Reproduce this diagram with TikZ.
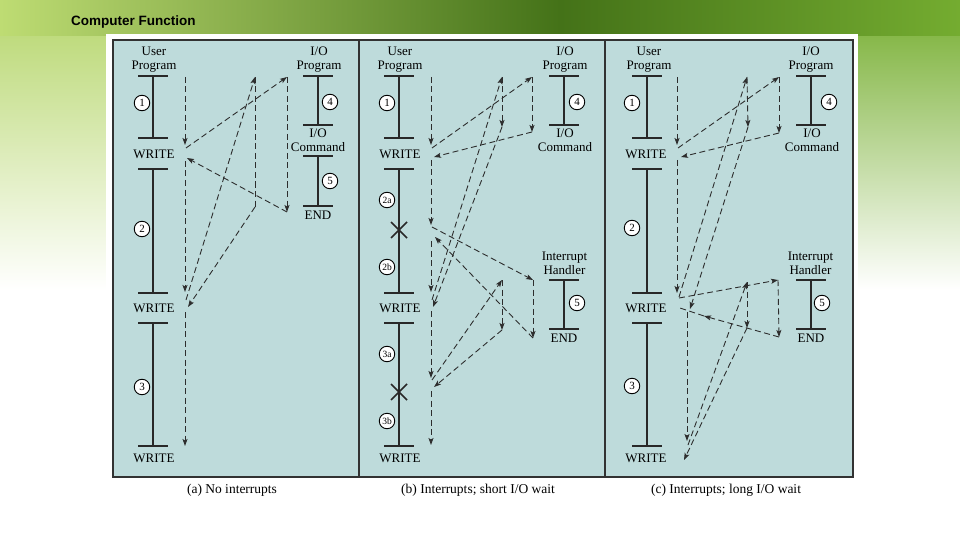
\documentclass[tikz,border=0pt]{standalone}
\usepackage{fontspec}
\setmainfont{Liberation Serif}
\newfontfamily\titlefont{Liberation Sans}
\usetikzlibrary{arrows.meta}
\definecolor{panelbg}{RGB}{190,219,219}
\definecolor{borderc}{RGB}{50,50,50}
\definecolor{barc}{RGB}{40,40,40}
\definecolor{flowc}{RGB}{45,45,45}
\definecolor{bgLeftTop}{RGB}{182,214,108}
\definecolor{bgLeftMid}{RGB}{212,234,170}
\definecolor{bgRightTop}{RGB}{118,174,48}
\definecolor{bgRightMid}{RGB}{160,206,96}
\definecolor{bandL}{RGB}{190,220,115}
\definecolor{bandM}{RGB}{68,114,24}
\definecolor{bandR}{RGB}{116,172,48}
\newcommand{\mytickmark}[2]{\draw[bar] ({#1-15},#2) -- ({#1+15},#2);}
\begin{document}
\begin{tikzpicture}[x=1pt,y=-1pt,
  bar/.style={draw=barc, line width=2pt},
  flow/.style={draw=flowc, line width=0.9pt, dash pattern=on 6pt off 3.5pt, -{Stealth[length=7pt,width=5pt,inset=1.5pt]}},
  flowplain/.style={draw=flowc, line width=0.9pt, dash pattern=on 6pt off 3.5pt},
  num/.style={circle, draw=black, fill=white, line width=0.9pt, inner sep=0pt, minimum size=15.5pt, font=\fontsize{11}{11}\selectfont},
  numsm/.style={num, font=\fontsize{9.5}{10}\selectfont},
  lbl/.style={font=\fontsize{13}{14}\selectfont, align=center, inner sep=0pt, text=black},
  captxt/.style={font=\fontsize{13.5}{14}\selectfont, inner sep=0pt, text=black}]
\useasboundingbox (0,0) rectangle (960,540);
% background
\fill[white] (0,0) rectangle (960,540);
\shade[top color=bgLeftTop, middle color=bgLeftMid, bottom color=white] (0,0) rectangle (480,290);
\shade[top color=bgRightTop, middle color=bgRightMid, bottom color=white] (480,0) rectangle (960,290);
\shade[left color=bandL, right color=bandM] (0,0) rectangle (560,36);
\shade[left color=bandM, right color=bandR] (560,0) rectangle (960,36);
\node[anchor=west, inner sep=0pt, font=\titlefont\bfseries\fontsize{13.5}{14}\selectfont] (title) at (71,22) {Computer Function};
% frame
\fill[white] (106,34) rectangle (858,484);
\draw[draw=borderc, line width=1.5pt, fill=panelbg] (113,40) rectangle (853,477);
\draw[draw=borderc, line width=2pt] (359,40) -- (359,477) (605,40) -- (605,477);

% ================= panel a =================
\foreach \yy in {76,138,169,293,323,446} {\mytickmark{153}{\yy}}
\draw[bar] (153,76) -- (153,138) (153,169) -- (153,293) (153,323) -- (153,446);
\foreach \yy in {76,125,156,206} {\mytickmark{318}{\yy}}
\draw[bar] (318,76) -- (318,125) (318,156) -- (318,206);
\node[lbl] (aUP) at (154,60) {User\\Program};
\node[lbl] (aIOP) at (319,60) {I/O\\Program};
\node[lbl] (aCMD) at (318,140.5) {I/O\\Command};
\node[lbl] (aEND) at (318,215) {END};
\node[lbl] (aWR1) at (154,154) {WRITE};
\node[lbl] (aWR2) at (154,308) {WRITE};
\node[lbl] (aWR3) at (154,458) {WRITE};
\node[num] (aN1) at (142,103) {1};
\node[num] (aN2) at (142,229) {2};
\node[num] (aN3) at (142,387) {3};
\node[num] (aN4) at (330,102) {4};
\node[num] (aN5) at (330,181) {5};
\coordinate (aU0) at (185,77);
\coordinate (aW1) at (185,145);
\coordinate (aW1o) at (186,148);
\coordinate (aIO1) at (287,77);
\coordinate (aIO1e) at (287,212);
\coordinate (aW1i) at (187,158);
\coordinate (aW1d) at (185,161);
\coordinate (aW2) at (185,292);
\coordinate (aW2o) at (186,300);
\coordinate (aIO2) at (255,77);
\coordinate (aIO2e) at (255,207);
\coordinate (aW2i) at (188,307);
\coordinate (aW2d) at (185,312);
\coordinate (aW3) at (185,446);
\draw[flow] (aU0) -- (aW1);
\draw[flow] (aW1o) -- (aIO1);
\draw[flow] (aIO1) -- (aIO1e);
\draw[flow] (aIO1e) -- (aW1i);
\draw[flow] (aW1d) -- (aW2);
\draw[flow] (aW2o) -- (aIO2);
\draw[flowplain] (aIO2) -- (aIO2e);
\draw[flow] (aIO2e) -- (aW2i);
\draw[flow] (aW2d) -- (aW3);

% ================= panel b =================
\foreach \yy in {76,138,169,293,323,446} {\mytickmark{399}{\yy}}
\draw[bar] (399,76) -- (399,138) (399,169) -- (399,293) (399,323) -- (399,446);
\draw[bar, line width=1.6pt] (391,222) -- (407,238) (391,238) -- (407,222);
\draw[bar, line width=1.6pt] (391,384) -- (407,400) (391,400) -- (407,384);
\foreach \yy in {76,125,280,329} {\mytickmark{564}{\yy}}
\draw[bar] (564,76) -- (564,125) (564,280) -- (564,329);
\node[lbl] (bUP) at (400,60) {User\\Program};
\node[lbl] (bIOP) at (565,60) {I/O\\Program};
\node[lbl] (bCMD) at (565,140.5) {I/O\\Command};
\node[lbl] (bIH) at (564.5,263) {Interrupt\\Handler};
\node[lbl] (bEND) at (564,338) {END};
\node[lbl] (bWR1) at (400,154) {WRITE};
\node[lbl] (bWR2) at (400,308) {WRITE};
\node[lbl] (bWR3) at (400,458) {WRITE};
\node[num] (bN1) at (387,103) {1};
\node[numsm] (bN2a) at (387,200) {2a};
\node[numsm] (bN2b) at (387,267) {2b};
\node[numsm] (bN3a) at (387,354) {3a};
\node[numsm] (bN3b) at (387,421) {3b};
\node[num] (bN4) at (577,102) {4};
\node[num] (bN5) at (577,303) {5};
\coordinate (b0) at (431,77);
\coordinate (b1) at (431,145);
\coordinate (b1s) at (432,148);
\coordinate (bIO) at (532,77);
\coordinate (bIOe) at (532,132);
\coordinate (b1r) at (434,157);
\coordinate (b2s) at (431,160);
\coordinate (b2) at (431,225);
\coordinate (b2u) at (432,227);
\coordinate (bH) at (533,280);
\coordinate (bHe) at (533,338);
\coordinate (b2r) at (435,237);
\coordinate (b3s) at (431,241);
\coordinate (b3) at (431,292);
\coordinate (b3u) at (432,300);
\coordinate (bIO2) at (502,77);
\coordinate (bIO2e) at (502,127);
\coordinate (b3r) at (433,307);
\coordinate (b4s) at (431,311);
\coordinate (b4) at (431,378);
\coordinate (b4u) at (432,380);
\coordinate (bH2) at (502,280);
\coordinate (bH2e) at (502,330);
\coordinate (b4r) at (434,387);
\coordinate (b5s) at (431,391);
\coordinate (b5) at (431,445);
\draw[flow] (b0) -- (b1);
\draw[flow] (b1s) -- (bIO);
\draw[flow] (bIO) -- (bIOe);
\draw[flow] (bIOe) -- (b1r);
\draw[flow] (b2s) -- (b2);
\draw[flow] (b2u) -- (bH);
\draw[flow] (bH) -- (bHe);
\draw[flow] (bHe) -- (b2r);
\draw[flow] (b3s) -- (b3);
\draw[flow] (b3u) -- (bIO2);
\draw[flow] (bIO2) -- (bIO2e);
\draw[flow] (bIO2e) -- (b3r);
\draw[flow] (b4s) -- (b4);
\draw[flow] (b4u) -- (bH2);
\draw[flow] (bH2) -- (bH2e);
\draw[flow] (bH2e) -- (b4r);
\draw[flow] (b5s) -- (b5);

% ================= panel c =================
\foreach \yy in {76,138,169,293,323,446} {\mytickmark{647}{\yy}}
\draw[bar] (647,76) -- (647,138) (647,169) -- (647,293) (647,323) -- (647,446);
\foreach \yy in {76,125,280,329} {\mytickmark{811}{\yy}}
\draw[bar] (811,76) -- (811,125) (811,280) -- (811,329);
\node[lbl] (cUP) at (649,60) {User\\Program};
\node[lbl] (cIOP) at (811,60) {I/O\\Program};
\node[lbl] (cCMD) at (812,140.5) {I/O\\Command};
\node[lbl] (cIH) at (810.5,263) {Interrupt\\Handler};
\node[lbl] (cEND) at (811,338) {END};
\node[lbl] (cWR1) at (646,154) {WRITE};
\node[lbl] (cWR2) at (646,308) {WRITE};
\node[lbl] (cWR3) at (646,458) {WRITE};
\node[num] (cN1) at (632,103) {1};
\node[num] (cN2) at (632,228) {2};
\node[num] (cN3) at (632,386) {3};
\node[num] (cN4) at (829,102) {4};
\node[num] (cN5) at (822,303) {5};
\coordinate (c0) at (677,77);
\coordinate (c1) at (677,145);
\coordinate (c1s) at (678,148);
\coordinate (cIO) at (779,77);
\coordinate (cIOe) at (779,133);
\coordinate (c1r) at (681,157);
\coordinate (c2s) at (677,160);
\coordinate (c2) at (677,293);
\coordinate (c2u) at (679,297);
\coordinate (cIO2) at (747,77);
\coordinate (cIO2e) at (748,127);
\coordinate (c2r) at (690,309);
\coordinate (c2h) at (679,298);
\coordinate (cH) at (778,280);
\coordinate (cHe) at (779,337);
\coordinate (c2hm) at (704,316);
\coordinate (c2hr) at (677,307);
\coordinate (c3s) at (687,312);
\coordinate (c3) at (687,441);
\coordinate (c3u) at (688,445);
\coordinate (cIO3) at (747,282);
\coordinate (cIO3e) at (747,328);
\coordinate (c3r) at (684,460);
\draw[flow] (c0) -- (c1);
\draw[flow] (c1s) -- (cIO);
\draw[flow] (cIO) -- (cIOe);
\draw[flow] (cIOe) -- (c1r);
\draw[flow] (c2s) -- (c2);
\draw[flow] (c2u) -- (cIO2);
\draw[flow] (cIO2) -- (cIO2e);
\draw[flow] (cIO2e) -- (c2r);
\draw[flow] (c2h) -- (cH);
\draw[flow] (cH) -- (cHe);
\draw[flow] (cHe) -- (c2hm);
\draw[flowplain] (c2hm) -- (c2hr);
\draw[flow] (c3s) -- (c3);
\draw[flow] (c3u) -- (cIO3);
\draw[flow] (cIO3) -- (cIO3e);
\draw[flow] (cIO3e) -- (c3r);

% captions
\node[captxt] (capA) at (232,490) {(a) No interrupts};
\node[captxt] (capB) at (478,490) {(b) Interrupts; short I/O wait};
\node[captxt] (capC) at (726,490) {(c) Interrupts; long I/O wait};
\end{tikzpicture}
\end{document}
